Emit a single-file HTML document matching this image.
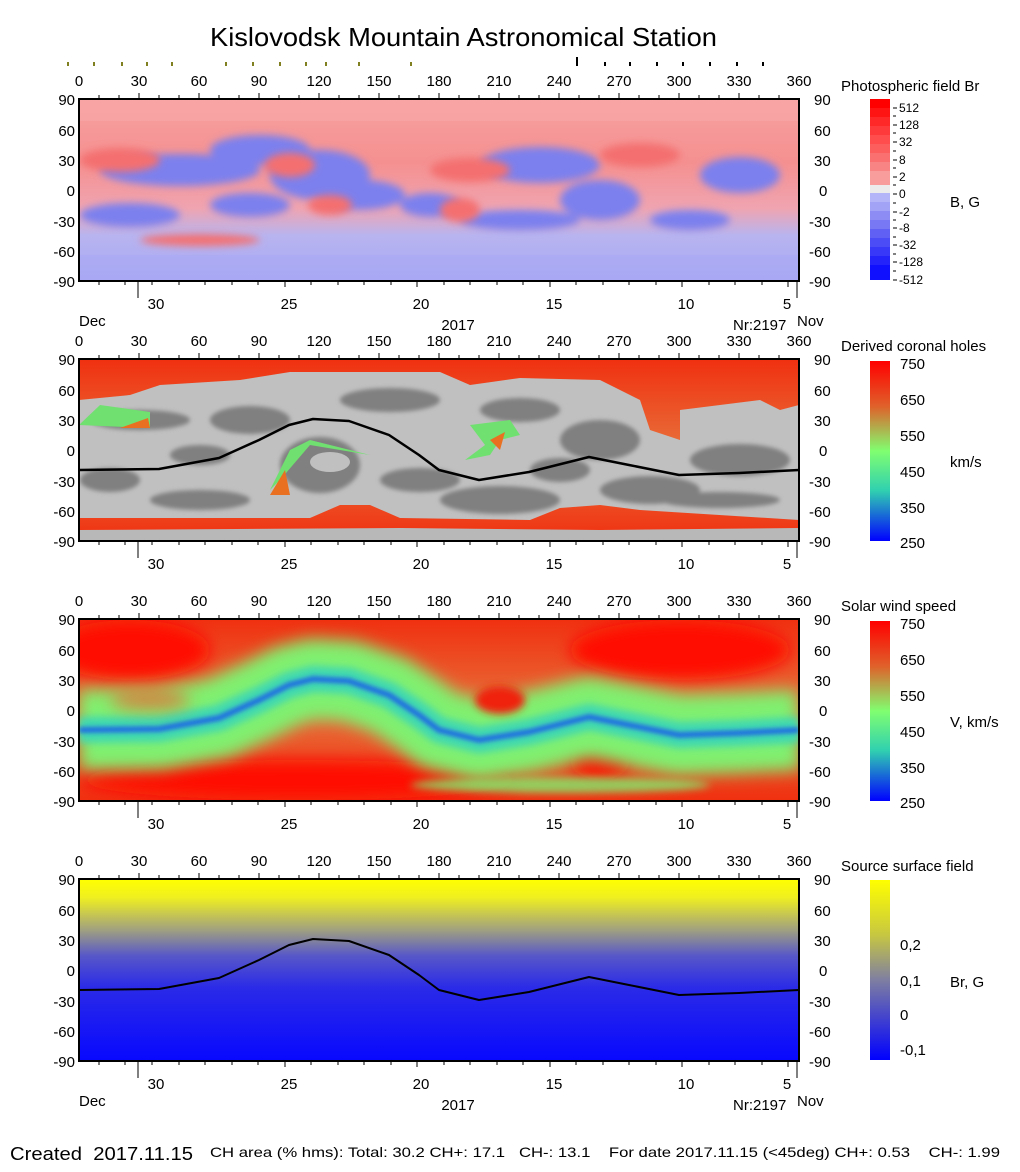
<!DOCTYPE html>
<html><head><meta charset="utf-8"><style>
body{margin:0;background:#fff;}
svg{display:block;font-family:"Liberation Sans",Arial,sans-serif;}
.pre{white-space:pre;}
</style></head><body>
<svg width="1020" height="1172" viewBox="0 0 1020 1172" xmlns="http://www.w3.org/2000/svg">
<defs>
<filter id="b4" filterUnits="userSpaceOnUse" x="0" y="0" width="1020" height="1172"><feGaussianBlur stdDeviation="4"/></filter>
<filter id="b8" filterUnits="userSpaceOnUse" x="0" y="0" width="1020" height="1172"><feGaussianBlur stdDeviation="8"/></filter>
<filter id="b2" filterUnits="userSpaceOnUse" x="0" y="0" width="1020" height="1172"><feGaussianBlur stdDeviation="2"/></filter>
<clipPath id="c1"><rect x="79" y="99" width="720" height="182"/></clipPath>
<clipPath id="c2"><rect x="79" y="359" width="720" height="182"/></clipPath>
<clipPath id="c3"><rect x="79" y="619" width="720" height="182"/></clipPath>
<clipPath id="c4"><rect x="79" y="879" width="720" height="182"/></clipPath>
<linearGradient id="g1" x1="0" y1="0" x2="0" y2="1">
<stop offset="0" stop-color="#f7a0a0"/><stop offset="0.35" stop-color="#f59090"/><stop offset="0.6" stop-color="#f0a4b0"/><stop offset="0.75" stop-color="#b8b4f0"/><stop offset="1" stop-color="#a8a8f4"/></linearGradient>
<linearGradient id="gcb2" x1="0" y1="0" x2="0" y2="1">
<stop offset="0" stop-color="#ff0000"/><stop offset="0.25" stop-color="#e0602a"/><stop offset="0.5" stop-color="#80ff70"/><stop offset="0.72" stop-color="#30d0b0"/><stop offset="1" stop-color="#0000ff"/></linearGradient>
<linearGradient id="g3" x1="0" y1="0" x2="0" y2="1">
<stop offset="0" stop-color="#f03010"/><stop offset="0.5" stop-color="#e8703a"/><stop offset="1" stop-color="#f03010"/></linearGradient>
<linearGradient id="g4" x1="0" y1="0" x2="0" y2="1">
<stop offset="0" stop-color="#ffff00"/><stop offset="0.1" stop-color="#f0f020"/><stop offset="0.28" stop-color="#a0a080"/><stop offset="0.42" stop-color="#5858c8"/><stop offset="0.6" stop-color="#2a2ae8"/><stop offset="1" stop-color="#0808ff"/></linearGradient>
<linearGradient id="gcb4" x1="0" y1="0" x2="0" y2="1">
<stop offset="0" stop-color="#ffff00"/><stop offset="0.3" stop-color="#c8c840"/><stop offset="0.55" stop-color="#8080a0"/><stop offset="1" stop-color="#0000ff"/></linearGradient>
</defs>

<text x="210" y="46" font-size="26" textLength="507" lengthAdjust="spacingAndGlyphs">Kislovodsk Mountain Astronomical Station</text>
<g stroke="#808020" stroke-width="2">
<path d="M68 62v4M94 62v4M122 62v4M147 62v4M172 62v4M226 62v4M253 62v4M280 62v4M306 62v4M326 62v4M359 62v4M411 62v4"/></g>
<g stroke="#000" stroke-width="2">
<path d="M577 57v9M605 62v4M630 62v4M657 62v4M683 62v4M710 62v4M737 62v4M763 62v4"/></g>

<g clip-path="url(#c1)">
<rect x="79" y="99" width="720" height="182" fill="url(#g1)"/>
<g fill="#7c80ee" filter="url(#b4)">
<ellipse cx="180" cy="170" rx="80" ry="16"/>
<ellipse cx="260" cy="150" rx="50" ry="15"/>
<ellipse cx="320" cy="175" rx="50" ry="25"/>
<ellipse cx="360" cy="195" rx="45" ry="15"/>
<ellipse cx="250" cy="205" rx="40" ry="12"/>
<ellipse cx="430" cy="205" rx="30" ry="12"/>
<ellipse cx="540" cy="165" rx="60" ry="18"/>
<ellipse cx="600" cy="200" rx="40" ry="20"/>
<ellipse cx="740" cy="175" rx="40" ry="18"/>
<ellipse cx="130" cy="215" rx="50" ry="12"/>
<ellipse cx="520" cy="220" rx="60" ry="10"/>
<ellipse cx="690" cy="220" rx="40" ry="10"/>
</g>
<g fill="#f47070" filter="url(#b4)">
<ellipse cx="120" cy="160" rx="40" ry="12"/>
<ellipse cx="290" cy="165" rx="25" ry="12"/>
<ellipse cx="330" cy="205" rx="22" ry="10"/>
<ellipse cx="460" cy="210" rx="20" ry="12"/>
<ellipse cx="470" cy="170" rx="40" ry="12"/>
<ellipse cx="640" cy="155" rx="40" ry="12"/>
<ellipse cx="200" cy="240" rx="60" ry="6"/>
</g>
<rect x="79" y="99" width="720" height="22" fill="#f8a8a8" opacity="0.6"/>
<rect x="79" y="255" width="720" height="26" fill="#a8a8f4" opacity="0.6"/>
</g>

<g clip-path="url(#c2)">
<rect x="79" y="359" width="720" height="182" fill="url(#g3)"/>
<path d="M79 400 L130 395 L160 385 L240 380 L290 372 L440 372 L470 385 L520 378 L600 380 L640 400 L650 430 L680 440 L680 410 L720 405 L760 400 L780 410 L799 405 L799 520 L640 510 L600 505 L560 508 L530 520 L400 518 L370 505 L340 505 L310 518 L79 518 Z" fill="#c0c0c0"/>
<path d="M79 535 L79 530 L400 528 L600 530 L799 528 L799 541 L79 541 Z" fill="#b8b8b8"/>
<g fill="#808080" filter="url(#b2)">
<ellipse cx="140" cy="420" rx="50" ry="10"/><ellipse cx="110" cy="480" rx="30" ry="12"/>
<ellipse cx="200" cy="500" rx="50" ry="10"/><ellipse cx="250" cy="420" rx="40" ry="14"/>
<ellipse cx="320" cy="465" rx="40" ry="28"/><ellipse cx="390" cy="400" rx="50" ry="12"/>
<ellipse cx="420" cy="480" rx="40" ry="12"/><ellipse cx="500" cy="500" rx="60" ry="14"/>
<ellipse cx="520" cy="410" rx="40" ry="12"/><ellipse cx="600" cy="440" rx="40" ry="20"/>
<ellipse cx="650" cy="490" rx="50" ry="14"/><ellipse cx="740" cy="460" rx="50" ry="16"/>
<ellipse cx="720" cy="500" rx="60" ry="8"/><ellipse cx="200" cy="455" rx="30" ry="10"/>
<ellipse cx="560" cy="470" rx="30" ry="12"/>
</g>
<ellipse cx="330" cy="462" rx="20" ry="10" fill="#c0c0c0"/>
<g fill="#70e070"><path d="M79 425 L150 428 L150 412 L100 405 Z"/><path d="M270 490 L290 450 L310 440 L370 455 L310 445 L280 480 Z"/><path d="M470 425 L510 420 L520 435 L500 440 L490 455 L465 460 L485 445 Z"/></g>
<g fill="#e87020"><path d="M120 428 L150 428 L148 418 Z"/><path d="M270 495 L285 470 L290 495 Z"/><path d="M490 440 L505 432 L500 450 Z"/></g>
<path d="M79 470 L159 469 L219 458 L259 440 L289 425 L313 419 L349 421 L389 435 L419 455 L439 470 L479 480 L529 472 L589 457 L629 465 L679 475 L739 473 L799 470" fill="none" stroke="#000" stroke-width="2.5" stroke-linejoin="round"/>
</g>

<g clip-path="url(#c3)">
<rect x="79" y="619" width="720" height="182" fill="url(#g3)"/>
<ellipse cx="130" cy="650" rx="80" ry="30" fill="#ff1000" filter="url(#b8)"/>
<ellipse cx="680" cy="650" rx="110" ry="30" fill="#ff1000" filter="url(#b8)"/>
<ellipse cx="300" cy="780" rx="220" ry="20" fill="#ff1000" filter="url(#b8)"/>
<ellipse cx="600" cy="760" rx="30" ry="20" fill="#ff1000" filter="url(#b8)"/>
<path d="M79 730 L159 729 L219 718 L259 700 L289 685 L313 679 L349 681 L389 695 L419 715 L439 730 L479 740 L529 732 L589 717 L629 725 L679 735 L739 733 L799 730" fill="none" stroke="#80f070" stroke-width="80" stroke-linejoin="round" filter="url(#b8)"/>
<path d="M79 730 L159 729 L219 718 L259 700 L289 685 L313 679 L349 681 L389 695 L419 715 L439 730 L479 740 L529 732 L589 717 L629 725 L679 735 L739 733 L799 730" fill="none" stroke="#40d8b0" stroke-width="26" stroke-linejoin="round" filter="url(#b4)"/>
<path d="M79 730 L159 729 L219 718 L259 700 L289 685 L313 679 L349 681 L389 695 L419 715 L439 730 L479 740 L529 732 L589 717 L629 725 L679 735 L739 733 L799 730" fill="none" stroke="#2070e0" stroke-width="6" stroke-linejoin="round" filter="url(#b2)"/>
<ellipse cx="500" cy="700" rx="25" ry="14" fill="#f02010" filter="url(#b4)"/>
<ellipse cx="150" cy="700" rx="40" ry="10" fill="#f06030" filter="url(#b8)" opacity="0.7"/>
<ellipse cx="560" cy="785" rx="150" ry="8" fill="#80f070" filter="url(#b4)" opacity="0.8"/>
</g>

<g clip-path="url(#c4)">
<rect x="79" y="879" width="720" height="182" fill="url(#g4)"/>
<path d="M79 990 L159 989 L219 978 L259 960 L289 945 L313 939 L349 941 L389 955 L419 975 L439 990 L479 1000 L529 992 L589 977 L629 985 L679 995 L739 993 L799 990" fill="none" stroke="#000" stroke-width="2" stroke-linejoin="round"/>
</g>

<g fill="none" stroke="#000" stroke-width="2">
<rect x="79" y="99" width="720" height="182"/>
<rect x="79" y="359" width="720" height="182"/>
<rect x="79" y="619" width="720" height="182"/>
<rect x="79" y="879" width="720" height="182"/>
</g>

<g font-size="15" fill="#000">
<g id="ax1">
<text x="79" y="86" text-anchor="middle">0</text><text x="139" y="86" text-anchor="middle">30</text><text x="199" y="86" text-anchor="middle">60</text><text x="259" y="86" text-anchor="middle">90</text><text x="319" y="86" text-anchor="middle">120</text><text x="379" y="86" text-anchor="middle">150</text><text x="439" y="86" text-anchor="middle">180</text><text x="499" y="86" text-anchor="middle">210</text><text x="559" y="86" text-anchor="middle">240</text><text x="619" y="86" text-anchor="middle">270</text><text x="679" y="86" text-anchor="middle">300</text><text x="739" y="86" text-anchor="middle">330</text><text x="799" y="86" text-anchor="middle">360</text>
<g text-anchor="end"><text x="75" y="105">90</text><text x="75" y="136">60</text><text x="75" y="166">30</text><text x="75" y="196">0</text><text x="75" y="227">-30</text><text x="75" y="257">-60</text><text x="75" y="287">-90</text></g>
<g><text x="814" y="105">90</text><text x="814" y="136">60</text><text x="814" y="166">30</text><text x="819" y="196">0</text><text x="809" y="227">-30</text><text x="809" y="257">-60</text><text x="809" y="287">-90</text></g>
</g>
<use href="#ax1" y="260"/><use href="#ax1" y="520"/><use href="#ax1" y="780"/>
<g id="bx1">
<text x="156" y="309" text-anchor="middle">30</text><text x="289" y="309" text-anchor="middle">25</text><text x="421" y="309" text-anchor="middle">20</text><text x="554" y="309" text-anchor="middle">15</text><text x="686" y="309" text-anchor="middle">10</text><text x="787" y="309" text-anchor="middle">5</text>
</g>
<use href="#bx1" y="260"/><use href="#bx1" y="520"/><use href="#bx1" y="780"/>
<text x="79" y="326">Dec</text><text x="458" y="330" text-anchor="middle">2017</text><text x="733" y="330">Nr:2197</text><text x="797" y="326">Nov</text>
<text x="79" y="1106">Dec</text><text x="458" y="1110" text-anchor="middle">2017</text><text x="733" y="1110">Nr:2197</text><text x="797" y="1106">Nov</text>
</g>

<g stroke="#000" stroke-width="1">
<g id="tk1">
<path d="M99 99v-4M119 99v-4M139 99v-6M159 99v-4M179 99v-4M199 99v-6M219 99v-4M239 99v-4M259 99v-6M279 99v-4M299 99v-4M319 99v-6M339 99v-4M359 99v-4M379 99v-6M399 99v-4M419 99v-4M439 99v-6M459 99v-4M479 99v-4M499 99v-6M519 99v-4M539 99v-4M559 99v-6M579 99v-4M599 99v-4M619 99v-6M639 99v-4M659 99v-4M679 99v-6M699 99v-4M719 99v-4M739 99v-6M759 99v-4M779 99v-4"/>
<path d="M99 281v4M125 281v4M138 281v17M152 281v4M179 281v4M205 281v4M232 281v4M258 281v4M285 281v6M311 281v4M338 281v4M364 281v4M391 281v4M417 281v6M444 281v4M470 281v4M497 281v4M523 281v4M550 281v6M576 281v4M603 281v4M629 281v4M656 281v4M682 281v6M709 281v4M735 281v4M762 281v4M788 281v6M797 281v17"/>
</g>
<use href="#tk1" y="260"/><use href="#tk1" y="520"/><use href="#tk1" y="780"/>
</g>

<g font-size="15">
<text x="841" y="91">Photospheric field Br</text>
<g>
<rect x="870" y="99" width="20" height="10" fill="#ff0000"/><rect x="870" y="108" width="20" height="10" fill="#ff1414"/><rect x="870" y="117" width="20" height="10" fill="#ff2828"/><rect x="870" y="126" width="20" height="10" fill="#ff3a3a"/><rect x="870" y="135" width="20" height="10" fill="#ff4c4c"/><rect x="870" y="144" width="20" height="10" fill="#fc5e5e"/><rect x="870" y="153" width="20" height="10" fill="#fa7070"/><rect x="870" y="162" width="20" height="10" fill="#f88484"/><rect x="870" y="171" width="20" height="14" fill="#f89c9c"/>
<rect x="870" y="185" width="20" height="8" fill="#ececec"/>
<rect x="870" y="193" width="20" height="10" fill="#b4b4f8"/><rect x="870" y="202" width="20" height="10" fill="#a2a2f6"/><rect x="870" y="211" width="20" height="10" fill="#8c8cf4"/><rect x="870" y="220" width="20" height="10" fill="#7878f4"/><rect x="870" y="229" width="20" height="10" fill="#6060f4"/><rect x="870" y="238" width="20" height="10" fill="#4c4cf6"/><rect x="870" y="247" width="20" height="10" fill="#3838f8"/><rect x="870" y="256" width="20" height="10" fill="#2424fa"/><rect x="870" y="265" width="20" height="15" fill="#1010ff"/>
</g>
<g stroke="#000"><path d="M893 108h4M893 116h3M893 125h4M893 133h3M893 142h4M893 151h3M893 160h4M893 168h3M893 177h4M893 185h3M893 194h4M893 203h3M893 212h4M893 220h3M893 228h4M893 237h3M893 245h4M893 254h3M893 262h4M893 271h3M893 280h4"/></g>
<g font-size="12"><text x="899" y="112">512</text><text x="899" y="129">128</text><text x="899" y="146">32</text><text x="899" y="164">8</text><text x="899" y="181">2</text><text x="899" y="198">0</text><text x="899" y="216">-2</text><text x="899" y="232">-8</text><text x="899" y="249">-32</text><text x="899" y="266">-128</text><text x="899" y="284">-512</text></g>
<text x="950" y="207">B, G</text>

<text x="841" y="351">Derived coronal holes</text>
<rect x="870" y="361" width="20" height="180" fill="url(#gcb2)"/>
<text x="900" y="369">750</text><text x="900" y="405">650</text><text x="900" y="441">550</text><text x="900" y="477">450</text><text x="900" y="513">350</text><text x="900" y="548">250</text>
<text x="950" y="467">km/s</text>

<text x="841" y="611">Solar wind speed</text>
<rect x="870" y="621" width="20" height="180" fill="url(#gcb2)"/>
<text x="900" y="629">750</text><text x="900" y="665">650</text><text x="900" y="701">550</text><text x="900" y="737">450</text><text x="900" y="773">350</text><text x="900" y="808">250</text>
<text x="950" y="727">V, km/s</text>

<text x="841" y="871">Source surface field</text>
<rect x="870" y="880" width="20" height="180" fill="url(#gcb4)"/>
<text x="900" y="950">0,2</text><text x="900" y="986">0,1</text><text x="900" y="1020">0</text><text x="900" y="1055">-0,1</text>
<text x="950" y="987">Br, G</text>
</g>

<text x="10" y="1160" font-size="18" class="pre" textLength="183" lengthAdjust="spacingAndGlyphs">Created  2017.11.15</text>
<text x="210" y="1157" font-size="14" class="pre" textLength="790" lengthAdjust="spacingAndGlyphs">CH area (% hms): Total: 30.2 CH+: 17.1   CH-: 13.1    For date 2017.11.15 (&lt;45deg) CH+: 0.53    CH-: 1.99</text>
</svg>
</body></html>
